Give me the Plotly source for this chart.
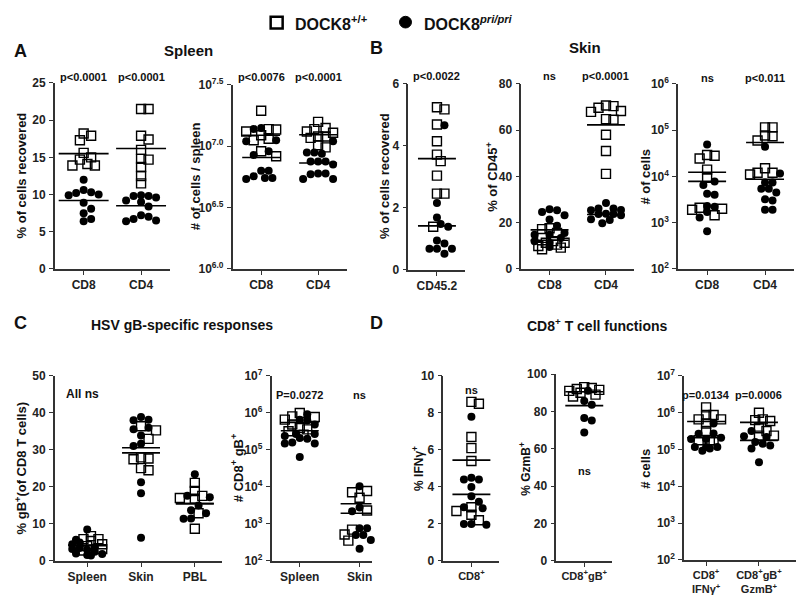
import math
import plotly.graph_objects as go

W, H = 800, 602
FONT = "Liberation Sans, Arial, sans-serif"

# ---------------- data ----------------
# Panel A1: % of cells recovered, spleen
a1_categories = ["CD8", "CD4"]
a1_wt = [[18.2, 17.9, 17.3, 15.6, 15.0, 14.7, 14.1, 13.9, 13.9],
         [21.5, 21.5, 17.9, 17.4, 16.0, 14.8, 14.7, 13.7, 12.5, 11.5]]
a1_pri = [[12.0, 10.6, 10.3, 10.2, 10.0, 9.9, 8.9, 8.1, 7.5, 6.7, 6.4],
          [9.9, 9.8, 9.8, 9.6, 9.2, 9.0, 8.4, 7.2, 7.0, 6.7, 6.4, 6.5]]
a1_wt_mean = [15.5, 16.2]
a1_pri_mean = [9.2, 8.5]
a1_p = ["p<0.0001", "p<0.0001"]

# Panel A2: # of cells / spleen
a2_categories = ["CD8", "CD4"]
a2_wt = [[1.95e7, 1.38e7, 1.37e7, 1.32e7, 1.23e7, 1.15e7, 1.12e7, 9.1e6, 8.3e6],
         [1.58e7, 1.38e7, 1.41e7, 1.32e7, 1.29e7, 1.2e7, 1.17e7, 1.2e7, 1.02e7, 9.8e6]]
a2_pri = [[1.41e7, 1.38e7, 1.12e7, 1.10e7, 9.1e6, 8.5e6, 6.3e6, 6.3e6, 5.7e6, 5.5e6, 5.5e6, 5.4e6],
          [1.1e7, 8.9e6, 8.7e6, 8.9e6, 7.5e6, 7.5e6, 7.5e6, 7.1e6, 6.0e6, 6.0e6, 5.9e6, 5.4e6, 5.4e6]]
a2_wt_mean = [1.23e7, 1.24e7]
a2_pri_mean = [8.1e6, 7.3e6]
a2_p = ["p<0.0076", "p<0.0001"]

# Panel B1: % of cells recovered, skin
b1_categories = ["CD45.2"]
b1_wt = [[5.18, 5.25, 4.69, 4.15, 3.72, 3.51, 3.04, 2.46, 2.46, 1.39]]
b1_pri = [[4.67, 2.16, 1.69, 1.48, 1.39, 0.95, 0.85, 0.68, 0.68, 0.68, 0.52]]
b1_wt_mean = [3.59]
b1_pri_mean = [1.42]
b1_p = ["p<0.0022"]

# Panel B2: % of CD45+
b2_categories = ["CD8", "CD4"]
b2_wt = [[17.6, 17.2, 15.5, 13.4, 11.3, 11.3, 9.9, 9.2, 8.5, 10.5, 12.0],
         [70.7, 70.4, 68.3, 67.9, 69.7, 64.5, 64.8, 58.0, 51.0, 41.1]]
b2_pri = [[25.8, 25.4, 24.6, 23.2, 21.4, 18.7, 15.5, 14.8, 14.8, 13.4, 11.3, 9.5, 12.0],
          [28.5, 26.1, 26.1, 25.4, 25.5, 23.9, 23.7, 23.7, 23.2, 21.1, 19.7, 21.5]]
b2_wt_mean = [12.4, 62.3]
b2_pri_mean = [16.9, 23.5]
b2_p = ["ns", "p<0.0001"]

# Panel B3: # of cells, skin
b3_categories = ["CD8", "CD4"]
b3_wt = [[2.9e4, 2.45e4, 2.8e4, 1.4e4, 9.3e3, 1.45e3, 2.0e3, 2.1e3, 1.9e3],
         [1.15e5, 1.15e5, 6.0e4, 7.4e4, 7.7e4, 1.5e4, 1.1e4, 1.2e4, 1.2e4]]
b3_pri = [[4.9e4, 6.5e3, 7.8e3, 4.0e3, 4.2e3, 2.2e3, 2.3e3, 1.7e3, 1.3e3, 650],
          [4.4e4, 1.15e4, 7.4e3, 7.4e3, 5.4e3, 5.4e3, 4.5e3, 3.2e3, 3.0e3, 1.9e3, 1.9e3]]
b3_wt_mean = [1.23e4, 5.4e4]
b3_pri_mean = [7.8e3, 8.7e3]
b3_p = ["ns", "p<0.011"]

# Panel C1: % gB+ (of CD8 T cells)
c1_categories = ["Spleen", "Skin", "PBL"]
c1_wt = [[6.7, 5.9, 5.9, 5.4, 4.5, 4.0, 3.2, 3.0, 2.8],
         [36.4, 35.3, 33.0, 28.0, 27.7, 27.5, 25.1, 24.5],
         [21.1, 18.9, 17.6, 17.0, 16.8, 12.9, 8.7]]
c1_pri = [[8.5, 5.7, 5.0, 4.5, 3.7, 3.5, 3.2, 3.0, 2.5, 2.0, 1.9, 1.6, 1.5],
          [38.9, 38.2, 38.0, 36.0, 35.6, 33.9, 31.7, 31.1, 21.3, 18.3, 6.3],
          [23.4, 17.6, 17.2, 15.0, 13.7, 12.9, 11.5, 11.4]]
c1_wt_mean = [4.3, 29.2, 15.5]
c1_pri_mean = [4.1, 30.6, 15.5]

# Panel C2: # CD8+ gB+
c2_categories = ["Spleen", "Skin"]
c2_wt = [[6.6e5, 7.8e5, 8.1e5, 1.0e6, 4.9e5, 3.9e5, 3.6e5, 2.6e5, 3.2e5],
         [7.1e3, 7.8e3, 5.1e3, 7.2e3, 2.3e3, 690, 700, 520, 355]]
c2_pri = [[9.3e5, 6.6e5, 6.3e5, 4.9e5, 2.7e5, 2.7e5, 2.1e5, 2.0e5, 2.4e5, 1.5e5, 1.5e5, 1.6e5, 6.5e4],
          [1.05e4, 2.8e3, 2.2e3, 1.9e3, 760, 760, 500, 500, 370, 215]]
c2_wt_mean = [5.5e5, 3.5e3]
c2_pri_mean = [3.3e5, 1.95e3]
c2_p = ["P=0.0272", "ns"]

# Panel D1: % IFNγ+
d1_categories = ["CD8<sup>+</sup>"]
d1_wt = [[8.6, 8.5, 6.7, 6.1, 5.4, 2.9, 2.7, 2.5, 2.2]]
d1_pri = [[7.8, 4.5, 4.4, 4.4, 4.0, 3.5, 3.2, 2.9, 2.85, 2.0, 1.95, 2.0]]
d1_wt_mean = [5.45]
d1_pri_mean = [3.6]
d1_p = ["ns"]

# Panel D2: % GzmB+
d2_categories = ["CD8<sup>+</sup>gB<sup>+</sup>"]
d2_wt = [[93.0, 92.5, 92.0, 91.5, 91.0, 90.0, 89.0, 88.0]]
d2_pri = [[91.0, 85.6, 83.5, 76.5, 75.1, 68.7]]
d2_wt_mean = [90.5]
d2_pri_mean = [83.1]

# Panel D3: # cells
d3_categories = ["CD8<sup>+</sup><br>IFNγ<sup>+</sup>", "CD8<sup>+</sup>gB<sup>+</sup><br>GzmB<sup>+</sup>"]
d3_wt = [[1.4e6, 6.6e5, 8.7e5, 8.7e5, 6.6e5, 5.1e5, 3.2e5, 1.8e5, 1.8e5, 1.8e5],
         [1.0e6, 6.6e5, 6.0e5, 6.3e5, 3.8e5, 3.2e5, 2.4e5, 2.4e5]]
d3_pri = [[5.1e5, 2.75e5, 2.7e5, 1.95e5, 2.1e5, 1.95e5, 1.17e5, 1.17e5, 1.17e5, 1.07e5, 9.3e4],
          [3.2e5, 2.2e5, 2.3e5, 1.3e5, 1.45e5, 1.6e5, 1.07e5, 4.5e4]]
d3_wt_mean = [5.8e5, 5.5e5]
d3_pri_mean = [2.1e5, 1.78e5]
d3_p = ["p=0.0134", "p=0.0006"]

lin_ticks_a1 = [0, 5, 10, 15, 20, 25]
log_ticks_a2 = [6.0, 6.5, 7.0, 7.5]
lin_ticks_b1 = [0, 2, 4, 6]
lin_ticks_b2 = [0, 20, 40, 60, 80]
log_ticks_b3 = [2, 3, 4, 5, 6]
lin_ticks_c1 = [0, 10, 20, 30, 40, 50]
log_ticks_c2 = [2, 3, 4, 5, 6, 7]
lin_ticks_d1 = [0, 2, 4, 6, 8, 10]
lin_ticks_d2 = [0, 20, 40, 60, 80, 100]
log_ticks_d3 = [2, 3, 4, 5, 6, 7]

# ---------------- figure construction ----------------
fig = go.Figure()
AXC = "#333333"


def swarm(groups, to_px, d=7.5, max_off=16.0):
    """Compact beeswarm: pixel x offsets, limited width, overlap allowed when crowded."""
    items = []
    for gi, vals in enumerate(groups):
        for vi, v in enumerate(vals):
            items.append((to_px(v), gi, vi))
    items.sort(key=lambda t: t[0])
    placed = []
    out = [[0.0] * len(vals) for vals in groups]
    step = d / 2.0
    cands = [0.0]
    n = 1
    while n * step <= max_off + 1e-9:
        cands += [n * step, -n * step]
        n += 1
    for py, gi, vi in items:
        best, best_d = None, -1.0
        for c in cands:
            md = min([math.hypot(c - qx, py - qy) for qx, qy in placed] or [1e9])
            if md >= d:
                best = c
                break
            if md > best_d + 0.5:
                best, best_d = c, md
        placed.append((best, py))
        out[gi][vi] = best
    return out


def add_panel(idx, box, yrange, log, ticks, cats, xrange, wt, pri, wt_mean, pri_mean,
              line_px=38, xfont=12, max_off=16.0):
    left, right, top, bottom = box
    xa, ya = f"xaxis{idx}", f"yaxis{idx}"
    xr, yr = f"x{idx}", f"y{idx}"
    ppx = (right - left) / (xrange[1] - xrange[0])
    ppy = (bottom - top) / (yrange[1] - yrange[0])
    to_px = (lambda v: -math.log10(v) * ppy) if log else (lambda v: -v * ppy)

    for ci in range(len(cats)):
        offs = swarm([wt[ci], pri[ci]], to_px, max_off=max_off)
        for series, off, sym, size, lw in ((wt[ci], offs[0], "square-open", 9, 1.4),
                                           (pri[ci], offs[1], "circle", 8, 0)):
            fig.add_trace(go.Scatter(
                x=[ci + o / ppx for o in off], y=series, mode="markers",
                marker=dict(symbol=sym, size=size, color="black",
                            line=dict(color="black", width=lw)),
                cliponaxis=False,
                xaxis=xr, yaxis=yr, showlegend=False, hoverinfo="y"))
    half = line_px / 2.0 / ppx
    for means in (wt_mean, pri_mean):
        xs, ys = [], []
        for ci, m in enumerate(means):
            xs += [ci - half, ci + half, None]
            ys += [m, m, None]
        fig.add_trace(go.Scatter(x=xs, y=ys, mode="lines", line=dict(color="black", width=1.6),
                                 cliponaxis=False,
                                 xaxis=xr, yaxis=yr, showlegend=False, hoverinfo="skip"))

    fig.layout[xa] = dict(
        domain=[left / W, right / W], range=xrange, anchor=yr,
        showline=True, linecolor=AXC, linewidth=1.6, ticks="outside", ticklen=4,
        tickwidth=1.4, tickcolor=AXC, tickvals=list(range(len(cats))),
        ticktext=[f"<b>{c}</b>" for c in cats],
        tickfont=dict(family=FONT, size=xfont, color="#222"),
        showgrid=False, zeroline=False, fixedrange=True)
    if log:
        tv = [10 ** t for t in ticks]
        tt = [f"<b>10<sup>{t:.1f}</sup></b>" if idx == 2 else f"<b>10<sup>{int(t)}</sup></b>"
              for t in ticks]
        yax = dict(type="log", range=yrange, tickvals=tv, ticktext=tt)
    else:
        yax = dict(range=yrange, tickvals=ticks, ticktext=[f"<b>{t:g}</b>" for t in ticks])
    yax.update(domain=[1 - bottom / H, 1 - top / H], anchor=xr,
               showline=True, linecolor=AXC, linewidth=1.6, ticks="outside", ticklen=4,
               tickwidth=1.4, tickcolor=AXC, ticklabelstandoff=1,
               tickfont=dict(family=FONT, size=12, color="#222"),
               showgrid=False, zeroline=False, fixedrange=True)
    fig.layout[ya] = yax


add_panel(1, (55, 170, 76, 267), [0, 25], False, lin_ticks_a1, a1_categories, [-0.5, 1.5],
          a1_wt, a1_pri, a1_wt_mean, a1_pri_mean, line_px=50)
add_panel(2, (233, 347, 78, 267), [6.0, 7.5], True, log_ticks_a2, a2_categories, [-0.5, 1.5],
          a2_wt, a2_pri, a2_wt_mean, a2_pri_mean)
add_panel(3, (409, 466, 77, 268), [0, 6], False, lin_ticks_b1, b1_categories, [-0.5, 0.5],
          b1_wt, b1_pri, b1_wt_mean, b1_pri_mean)
add_panel(4, (522, 635, 77, 267), [0, 80], False, lin_ticks_b2, b2_categories, [-0.5, 1.5],
          b2_wt, b2_pri, b2_wt_mean, b2_pri_mean)
add_panel(5, (679, 795, 77, 267), [2, 6], True, log_ticks_b3, b3_categories, [-0.5, 1.5],
          b3_wt, b3_pri, b3_wt_mean, b3_pri_mean)
add_panel(6, (55, 222, 377, 567), [0, 50], False, lin_ticks_c1, c1_categories, [-0.6, 2.5],
          c1_wt, c1_pri, c1_wt_mean, c1_pri_mean)
add_panel(7, (272, 372, 377, 567), [2, 7], True, log_ticks_c2, c2_categories, [-0.47, 1.2],
          c2_wt, c2_pri, c2_wt_mean, c2_pri_mean)
add_panel(8, (444, 500, 377, 567), [0, 10], False, lin_ticks_d1, d1_categories, [-0.5, 0.5],
          d1_wt, d1_pri, d1_wt_mean, d1_pri_mean, xfont=11)
add_panel(9, (557, 613, 375, 567), [0, 100], False, lin_ticks_d2, d2_categories, [-0.5, 0.5],
          d2_wt, d2_pri, d2_wt_mean, d2_pri_mean, xfont=11)
add_panel(10, (685, 797, 377, 566), [2, 7], True, log_ticks_d3, d3_categories, [-0.415, 1.7],
          d3_wt, d3_pri, d3_wt_mean, d3_pri_mean, xfont=11)

ann = []


def text(x, y, s, size=12, angle=0, xanchor="center", xref="paper"):
    ann.append(dict(x=x / W if xref == "paper" else x, y=1 - y / H, xref=xref, yref="paper",
                    text=f"<b>{s}</b>", showarrow=False, textangle=angle,
                    xanchor=xanchor, yanchor="middle",
                    font=dict(family=FONT, size=size, color="#111")))


# panel letters and titles
text(21, 43, "A", 18)
text(377, 40, "B", 18)
text(21, 323, "C", 18)
text(377, 323, "D", 18)
text(189, 43, "Spleen", 15)
text(586, 40, "Skin", 15)
text(182, 325, "HSV gB-specific responses", 14)
text(598, 325, "CD8<sup>+</sup> T cell functions", 14)

# y-axis titles
text(21, 171, "% of cells recovered", 13, -90)
text(196, 172, "# of cells / spleen", 13, -90)
text(385, 172, "% of cells recovered", 13, -90)
text(493, 172, "% of CD45<sup>+</sup>", 13, -90)
text(646, 172, "# of cells", 13, -90)
text(21, 472, "% gB<sup>+</sup>(of CD8 T cells)", 13, -90)
text(238, 472, "# CD8<sup>+</sup> gB<sup>+</sup>", 13, -90)
text(419, 472, "% IFNγ<sup>+</sup>", 12, -90)
text(526, 472, "% GzmB<sup>+</sup>", 12, -90)
text(646, 472, "# cells", 13, -90)

# p-value labels, positioned over categories
for i, s in enumerate(a1_p):
    text(i, 70, s, 11, xref="x1")
for i, s in enumerate(a2_p):
    text(i, 70, s, 11, xref="x2")
for i, s in enumerate(b1_p):
    text(i, 69, s, 11, xref="x3")
for i, s in enumerate(b2_p):
    text(i, 69, s, 11, xref="x4")
for i, s in enumerate(b3_p):
    text(i, 71, s, 11, xref="x5")
text(83, 396, "All ns", 12)
for i, s in enumerate(c2_p):
    text(i, 397, s, 11, xref="x7")
for i, s in enumerate(d1_p):
    text(i, 391, s, 11, xref="x8")
text(0, 475, "ns", 11, xref="x9")
for i, s in enumerate(d3_p):
    text(i, 397, s, 11, xref="x10")

# legend
text(293, 14, "DOCK8<sup>+/+</sup>", 16, xanchor="left")
text(423, 14, "DOCK8<sup><i>pri/pri</i></sup>", 16, xanchor="left")
shapes = [
    dict(type="rect", xref="paper", yref="paper", x0=271 / W, x1=283 / W,
         y0=1 - 20 / H, y1=1 - 8 / H, line=dict(color="black", width=2.5)),
    dict(type="circle", xref="paper", yref="paper", x0=400 / W, x1=412 / W,
         y0=1 - 19.5 / H, y1=1 - 7.5 / H, fillcolor="black", line=dict(color="black", width=1)),
]

fig.update_layout(width=W, height=H, margin=dict(l=0, r=0, t=0, b=0),
                  paper_bgcolor="white", plot_bgcolor="white",
                  annotations=ann, shapes=shapes, showlegend=False,
                  font=dict(family=FONT))

fig.write_html("out.html", config={"displayModeBar": False},
               post_script="document.body.style.margin='0';")
